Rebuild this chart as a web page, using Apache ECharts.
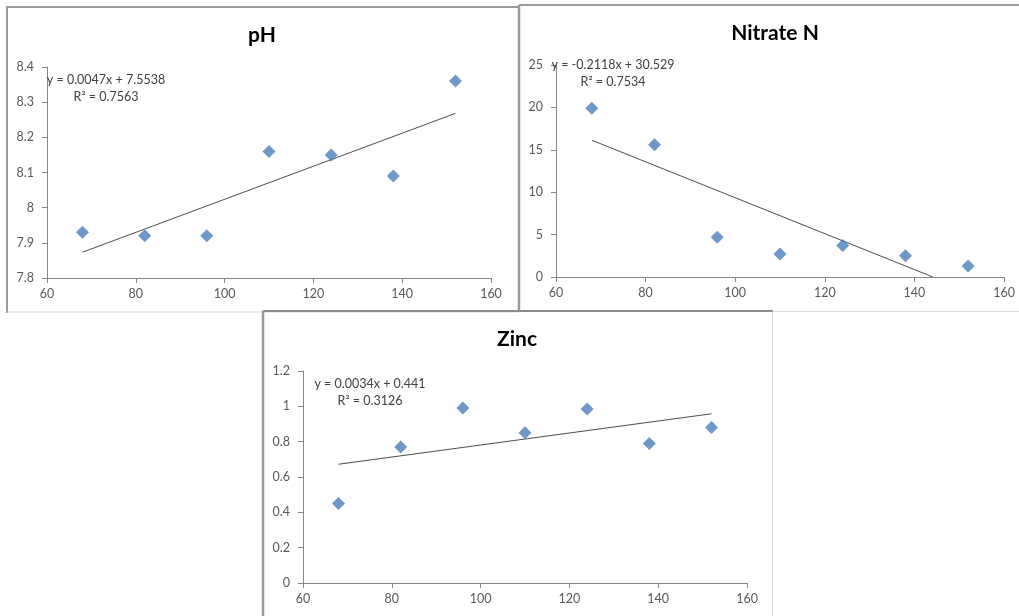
<!DOCTYPE html>
<html>
<head>
<meta charset="utf-8">
<script src="https://cdn.jsdelivr.net/npm/echarts@6/dist/echarts.min.js"></script>
<style>html,body{margin:0;padding:0;background:#fff;}#c{width:1019px;height:616px;}</style>
</head>
<body>
<div id="c"></div>
<script>
// Data
var xValues = [68, 82, 96, 110, 124, 138, 152];
var phValues = [7.93, 7.92, 7.92, 8.16, 8.15, 8.09, 8.36];
var nitrateValues = [19.9, 15.6, 4.7, 2.7, 3.7, 2.5, 1.3];
var zincValues = [0.45, 0.77, 0.99, 0.85, 0.985, 0.79, 0.88];
// Trendline coefficients as printed [slope, intercept]
var phTrend = [0.0047, 7.5538];
var nitrateTrend = [-0.2118, 30.529];
var zincTrend = [0.0034, 0.441];
var titles = ['pH', 'Nitrate N', 'Zinc'];
var eqTexts = [
  ['y = 0.0047x + 7.5538', 'R² = 0.7563'],
  ['y = -0.2118x + 30.529', 'R² = 0.7534'],
  ['y = 0.0034x + 0.441', 'R² = 0.3126']
];
var xAxisRange = [60, 160, 20];
var yRanges = [[7.8, 8.4, 0.1], [0, 25, 5], [0, 1.2, 0.2]];

function pairs(ys) { return xValues.map(function (x, i) { return [x, ys[i]]; }); }
function trendPts(c, ymin) {
  var x0 = xValues[0], x1 = xValues[xValues.length - 1];
  var y0 = c[0] * x0 + c[1], y1 = c[0] * x1 + c[1];
  if (y1 < ymin) { x1 = (ymin - c[1]) / c[0]; y1 = ymin; }
  return [[x0, y0], [x1, y1]];
}

var FONT = 'Lato, "Open Sans", sans-serif';
var axisColor = '#868686';
var labelColor = '#595959';
var grids = [
  {left: 47, right: 528, top: 67, bottom: 338},
  {left: 556, right: 15, top: 65, bottom: 339},
  {left: 303, right: 272, top: 371, bottom: 33}
];
var allY = [phValues, nitrateValues, zincValues];
var allT = [phTrend, nitrateTrend, zincTrend];

var xAxes = [], yAxes = [], series = [];
for (var i = 0; i < 3; i++) {
  xAxes.push({
    gridIndex: i, type: 'value', min: xAxisRange[0], max: xAxisRange[1], interval: xAxisRange[2],
    axisLine: {show: true, lineStyle: {color: axisColor, width: 1}},
    axisTick: {show: true, length: 5, lineStyle: {color: axisColor}},
    axisLabel: {color: labelColor, fontSize: 12.5, fontFamily: FONT, margin: 9},
    splitLine: {show: false}
  });
  yAxes.push({
    gridIndex: i, type: 'value', min: yRanges[i][0], max: yRanges[i][1], interval: yRanges[i][2],
    axisLine: {show: true, lineStyle: {color: axisColor, width: 1}},
    axisTick: {show: true, length: 5, lineStyle: {color: axisColor}},
    axisLabel: {color: labelColor, fontSize: 12.5, fontFamily: FONT, margin: 13,
      formatter: function (v) { return String(Math.round(v * 1000) / 1000); }},
    splitLine: {show: false}
  });
  series.push({
    type: 'line', xAxisIndex: i, yAxisIndex: i, data: trendPts(allT[i], yRanges[i][0]),
    symbol: 'none', lineStyle: {color: '#4d4d4d', width: 1}, silent: true, z: 2
  });
  series.push({
    type: 'scatter', xAxisIndex: i, yAxisIndex: i, data: pairs(allY[i]),
    symbol: 'diamond', symbolSize: [13, 13], itemStyle: {color: '#4a7ebb'}, z: 3
  });
}

var dark = '#9a9a9a', light = '#d9d9d9';
function ln(x1, y1, x2, y2, c, w) {
  return {type: 'line', shape: {x1: x1, y1: y1, x2: x2, y2: y2}, style: {stroke: c, lineWidth: w}, z: 1};
}
function txt(x, y, t, size, weight, color) {
  return {type: 'text', x: x, y: y, style: {text: t, fontSize: size, fontWeight: weight, fill: color,
    fontFamily: FONT, align: 'center', verticalAlign: 'middle'}, z: 5};
}
var graphics = [
  // pH panel
  ln(7, 7, 519, 7, dark, 2), ln(7, 6, 7, 313, dark, 2), ln(7, 312, 519, 312, light, 1),
  // Nitrate panel
  ln(519, 5, 1019, 5, dark, 2), ln(519, 5, 519, 312, dark, 2.5), ln(519, 311.5, 1019, 311.5, light, 1),
  // Zinc panel
  {type: 'rect', shape: {x: 263, y: 311, width: 509, height: 310}, style: {fill: '#fff'}, z: 0},
  ln(263, 311, 773, 311, '#8a8a8a', 2), ln(263, 311, 263, 616, dark, 2.5), ln(772.5, 311, 772.5, 616, light, 1),
  // titles
  txt(262, 35, titles[0], 21, 'bold', '#000'),
  txt(775, 33, titles[1], 21, 'bold', '#000'),
  txt(517, 339, titles[2], 21, 'bold', '#000'),
  // equations
  txt(106, 80, eqTexts[0][0], 12.5, 'normal', '#404040'),
  txt(106, 97, eqTexts[0][1], 12.5, 'normal', '#404040'),
  txt(613, 65, eqTexts[1][0], 12.5, 'normal', '#404040'),
  txt(613, 82, eqTexts[1][1], 12.5, 'normal', '#404040'),
  txt(370, 384, eqTexts[2][0], 12.5, 'normal', '#404040'),
  txt(370, 401, eqTexts[2][1], 12.5, 'normal', '#404040')
];

var chart = echarts.init(document.getElementById('c'));
chart.setOption({
  animation: false,
  backgroundColor: '#fff',
  grid: grids,
  xAxis: xAxes,
  yAxis: yAxes,
  series: series,
  graphic: graphics
});
</script>
</body>
</html>
